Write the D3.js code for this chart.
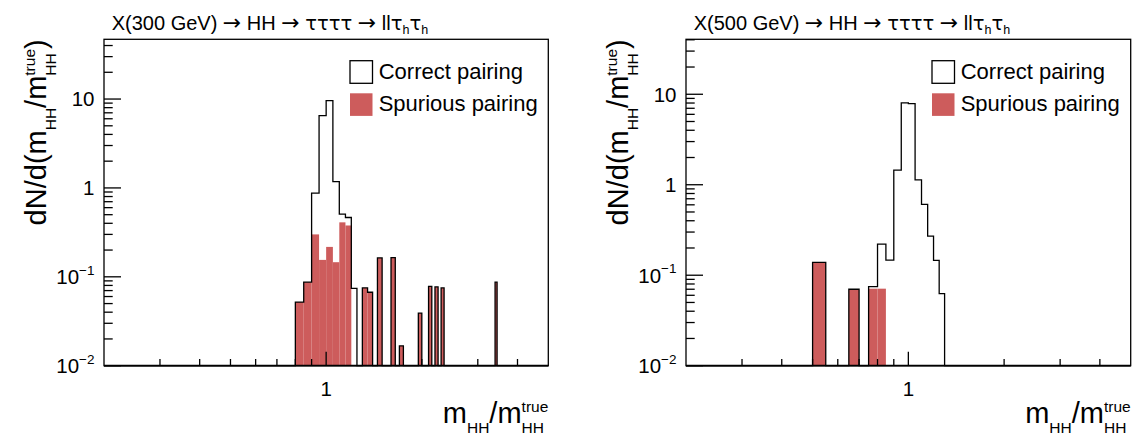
<!DOCTYPE html>
<html>
<head>
<meta charset="utf-8">
<script src="https://cdn.jsdelivr.net/npm/d3@7"></script>
<style>
body { margin: 0; background: #fff; }
svg text { font-family: "Liberation Sans", Arial, sans-serif; fill: #000; white-space: pre; }
</style>
</head>
<body>
<svg id="chart" width="1135" height="438"></svg>
<script>
var binWidth = 0.05;
var xMin = 0.2, xMax = 5;
var yMin = 0.01;

// X(300 GeV) : bin lower edges and normalised contents
var bins300 = [0.80, 0.85, 0.90, 0.95, 1.00, 1.05, 1.10, 1.15, 1.20, 1.30, 1.35, 1.45, 1.60, 1.70, 1.95, 2.10, 2.20, 2.30, 3.40];
var correct300 = [0, 0, 0.574, 6.35, 9.38, 1.03, 0.097, 0.087, 0.074, 0, 0, 0, 0, 0, 0, 0, 0, 0, 0];
var spurious300 = [0.052, 0.087, 0.30, 0.155, 0.217, 0.146, 0.41, 0.378, 0, 0.075, 0.067, 0.163, 0.164, 0.0167, 0.039, 0.078, 0.077, 0.075, 0.087];

// X(500 GeV)
var bins500 = [0.50, 0.65, 0.75, 0.80, 0.85, 0.90, 0.95, 1.00, 1.05, 1.10, 1.15, 1.20, 1.25];
var correct500 = [0, 0, 0.004, 0.150, 0.147, 1.45, 8.05, 7.9, 1.13, 0.606, 0.271, 0.146, 0.0625];
var spurious500 = [0.139, 0.070, 0.071, 0.071, 0, 0, 0, 0, 0, 0, 0, 0, 0];

var yMax300 = 47, yMax500 = 40.5;

var xTicksMinor = [0.3, 0.4, 0.5, 0.6, 0.7, 0.8, 0.9, 2, 3, 4];
var xTicksMajor = [1];
var yTicksMajor = [0.01, 0.1, 1, 10];
var yTickBase = ["10", "10", "1", "10"];
var yTickExp = ["\u22122", "\u22121", "", ""];

var legendLabels = ["Correct pairing", "Spurious pairing"];
var masses = ["300", "500"];

var red = "#cd5c5c";
var top_ = 39.3, bottom = 365.7;
var symFont = "'DejaVu Sans', sans-serif";

var svg = d3.select("#chart");

// draws a run of text pieces (sub/superscripts) one after another
function richText(g, x, y, parts, anchor) {
    var grp = g.append("g");
    var cx = 0, prevStart = 0, prevW = 0;
    parts.forEach(function (p) {
        var startX = p.stack ? prevStart : cx;
        var t = grp.append("text")
            .attr("x", startX)
            .attr("y", p.dy || 0)
            .style("font-size", p.size + "px")
            .text(p.t);
        if (p.font) t.style("font-family", p.font);
        var w = t.node().getComputedTextLength();
        if (p.stack) {
            cx = startX + Math.max(prevW, w);
        } else {
            prevStart = startX;
            prevW = w;
            cx = startX + w;
        }
    });
    var shift = anchor == "end" ? -cx : anchor == "middle" ? -cx / 2 : 0;
    grp.attr("transform", "translate(" + (x + shift) + "," + y + ")");
    return grp;
}

function ratioLabel(prefix, suffix) {
    var parts = [];
    parts.push({ t: prefix + "m", size: 29 });
    parts.push({ t: "HH", size: 15.5, dy: 10 });
    parts.push({ t: "/m", size: 29 });
    parts.push({ t: "HH", size: 15.5, dy: 10 });
    parts.push({ t: "true", size: 15.5, dy: -11.5, stack: true });
    if (suffix) parts.push({ t: suffix, size: 29 });
    return parts;
}

function titleParts(mass) {
    var arrow = { t: "\u2192", size: 22, font: symFont };
    return [
        { t: "X(" + mass + " GeV) ", size: 20 }, arrow,
        { t: " HH ", size: 20 }, arrow,
        { t: " ", size: 20 },
        { t: "\u03c4\u03c4\u03c4\u03c4", size: 19.5, font: symFont },
        { t: " ", size: 20 }, arrow,
        { t: " ll", size: 20 },
        { t: "\u03c4", size: 19.5, font: symFont },
        { t: "h", size: 12.5, dy: 4 },
        { t: "\u03c4", size: 19.5, font: symFont },
        { t: "h", size: 12.5, dy: 4 }
    ];
}

function drawPanel(x0, x1, yMax, bins, correct, spurious, mass) {

    var x = d3.scaleLog().domain([xMin, xMax]).range([x0, x1]);
    var y = d3.scaleLog().domain([yMin, yMax]).range([bottom, top_]).clamp(true);

    var g = svg.append("g");

    var data = bins.map(function (b, i) {
        return { lo: b, c: correct[i], s: spurious[i] };
    });

    // spurious pairing, filled
    g.selectAll(".spur")
        .data(data.filter(function (d) { return d.s > 0; }))
        .join("rect")
        .attr("class", "spur")
        .attr("x", function (d) { return x(d.lo); })
        .attr("width", function (d) { return x(d.lo + binWidth) - x(d.lo); })
        .attr("y", function (d) { return y(d.s); })
        .attr("height", function (d) { return bottom - y(d.s); })
        .style("fill", red);

    // stacked total, outline only
    var lookup = new Map(data.map(function (d) {
        return [Math.round(d.lo / binWidth), d.c + d.s];
    }));
    var grid = d3.range(Math.round(xMin / binWidth), Math.round(xMax / binWidth) + 1).map(function (k) {
        return { lo: k * binWidth, v: lookup.get(k) || 0 };
    });
    var step = d3.line()
        .x(function (d) { return x(d.lo); })
        .y(function (d) { return y(Math.max(d.v, yMin)); })
        .curve(d3.curveStepAfter);
    g.append("path")
        .attr("d", step(grid))
        .style("fill", "none")
        .style("stroke", "#000")
        .style("stroke-width", 1.3);

    // frame
    g.append("rect")
        .attr("x", x0).attr("y", top_)
        .attr("width", x1 - x0).attr("height", bottom - top_)
        .style("fill", "none").style("stroke", "#000").style("stroke-width", 1.3);
    g.append("line")
        .attr("x1", x0).attr("x2", x1).attr("y1", bottom).attr("y2", bottom)
        .style("stroke", "#000").style("stroke-width", 1.8);

    // y ticks
    var yMinor = [];
    yTicksMajor.forEach(function (v) {
        d3.range(2, 10).forEach(function (m) {
            if (v * m <= yMax) yMinor.push(v * m);
        });
    });
    g.selectAll(".ymaj")
        .data(yTicksMajor)
        .join("line")
        .attr("x1", x0).attr("x2", x0 + 17)
        .attr("y1", function (d) { return y(d); })
        .attr("y2", function (d) { return y(d); })
        .style("stroke", "#000").style("stroke-width", 1.3);
    g.selectAll(".ymin")
        .data(yMinor)
        .join("line")
        .attr("x1", x0).attr("x2", x0 + 8.7)
        .attr("y1", function (d) { return y(d); })
        .attr("y2", function (d) { return y(d); })
        .style("stroke", "#000").style("stroke-width", 1.3);

    // x ticks
    g.selectAll(".xmin")
        .data(xTicksMinor)
        .join("line")
        .attr("x1", function (d) { return x(d); })
        .attr("x2", function (d) { return x(d); })
        .attr("y1", bottom).attr("y2", bottom - 6.7)
        .style("stroke", "#000").style("stroke-width", 1.3);
    g.selectAll(".xmaj")
        .data(xTicksMajor)
        .join("line")
        .attr("x1", function (d) { return x(d); })
        .attr("x2", function (d) { return x(d); })
        .attr("y1", bottom).attr("y2", bottom - 14)
        .style("stroke", "#000").style("stroke-width", 1.3);

    // tick labels
    yTicksMajor.forEach(function (v, i) {
        var parts = [{ t: yTickBase[i], size: 20.5 }];
        if (yTickExp[i]) parts.push({ t: yTickExp[i], size: 13.5, dy: -9.5 });
        richText(g, x0 - 9.5, y(v) + 7.3, parts, "end");
    });
    xTicksMajor.forEach(function (v) {
        richText(g, x(v), 396, [{ t: String(v), size: 20.5 }], "middle");
    });

    // axis titles
    richText(g, x1, 423.3, ratioLabel("", ""), "end");
    var yt = g.append("g")
        .attr("transform", "translate(" + (x0 - 58) + "," + top_ + ") rotate(-90)");
    richText(yt, 0, 0, ratioLabel("dN/d(", ")"), "end");

    // title
    richText(g, x0 + 7.7, 29.5, titleParts(mass), "start");

    // legend
    var lx = x0 + 246;
    g.append("rect")
        .attr("x", lx).attr("y", 60.7).attr("width", 22.5).attr("height", 22.6)
        .style("fill", "#fff").style("stroke", "#000").style("stroke-width", 1.3);
    g.append("rect")
        .attr("x", lx).attr("y", 93.3).attr("width", 22.5).attr("height", 22.6)
        .style("fill", red);
    legendLabels.forEach(function (t, i) {
        g.append("text")
            .attr("x", lx + 28.7)
            .attr("y", 79.3 + i * 31.4)
            .style("font-size", "22px")
            .text(t);
    });
}

drawPanel(104, 548.3, yMax300, bins300, correct300, spurious300, masses[0]);
drawPanel(686, 1130.7, yMax500, bins500, correct500, spurious500, masses[1]);
</script>
</body>
</html>
